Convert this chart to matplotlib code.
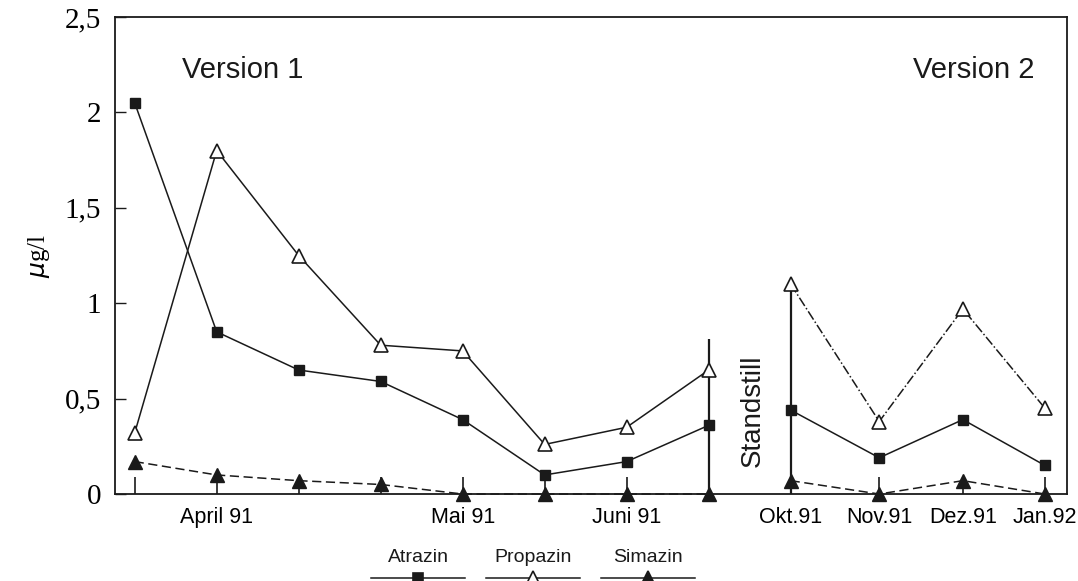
import matplotlib
matplotlib.use("Agg")
import matplotlib.pyplot as plt
from matplotlib.lines import Line2D

# ---- data ----
x_v1 = [0, 1, 2, 3, 4, 5, 6, 7]
x_v2 = [8, 9.08, 10.1, 11.1]
atrazin_v1 = [2.05, 0.85, 0.65, 0.59, 0.39, 0.10, 0.17, 0.36]
atrazin_v2 = [0.44, 0.19, 0.39, 0.15]
propazin_v1 = [0.32, 1.80, 1.25, 0.78, 0.75, 0.26, 0.35, 0.65]
propazin_v2 = [1.10, 0.38, 0.97, 0.45]
simazin_v1 = [0.17, 0.10, 0.07, 0.05, 0.0, 0.0, 0.0, 0.0]
simazin_v2 = [0.07, 0.0, 0.07, 0.0]
tick_labels = {1: "April 91", 4: "Mai 91", 6: "Juni 91", 8: "Okt.91",
               9.08: "Nov.91", 10.1: "Dez.91", 11.1: "Jan.92"}
y_ticks = [0, 0.5, 1, 1.5, 2, 2.5]
y_tick_labels = ["0", "0,5", "1", "1,5", "2", "2,5"]
end_v1 = (7, 0.81)
start_v2 = (8, 1.10)

ink = "#1a1a1a"
fig = plt.figure(figsize=(10.78, 5.81), dpi=100)
ax = fig.add_axes([0.1067, 0.1497, 0.8831, 0.821])

kw = dict(color=ink, lw=1.1, clip_on=False, zorder=3)
for xs, ys in [(x_v1, atrazin_v1), (x_v2, atrazin_v2)]:
    ax.plot(xs, ys, ls="-", marker="s", ms=7, mfc=ink, mec=ink, **kw)
for xs, ys, ls in [(x_v1, propazin_v1, "-"), (x_v2, propazin_v2, "-.")]:
    ax.plot(xs, ys, ls=ls, marker="^", ms=10, mfc="white", mec=ink, mew=1.2, **kw)
for xs, ys in [(x_v1, simazin_v1), (x_v2, simazin_v2)]:
    ax.plot(xs, ys, ls=(0, (6, 3)), marker="^", ms=10, mfc=ink, mec=ink, **kw)

ax.vlines([end_v1[0], start_v2[0]], 0, [end_v1[1], start_v2[1]], color=ink, lw=1.6)

ax.set_xlim(-0.24, 11.37)
ax.set_ylim(0, 2.5)
all_x = x_v1 + x_v2
ax.set_xticks(all_x)
ax.set_xticklabels([tick_labels.get(v, "") for v in all_x],
                   fontfamily="Liberation Sans", fontsize=15.5)
ax.tick_params(axis="x", direction="in", length=12, width=1.2, color=ink, pad=9)
ax.set_yticks(y_ticks)
ax.set_yticklabels(y_tick_labels, fontfamily="Liberation Serif", fontsize=21)
ax.tick_params(axis="y", direction="in", length=8, width=1.0, color=ink, pad=10)
for s in ax.spines.values():
    s.set_color(ink)
    s.set_linewidth(1.3)

ax.set_ylabel(r"$\mu$g/l", fontfamily="Liberation Serif", fontsize=18, labelpad=9)

ax.text(0.070, 0.872, "Version 1", transform=ax.transAxes, fontsize=21,
        fontfamily="Liberation Sans", color=ink)
ax.text(0.966, 0.872, "Version 2", transform=ax.transAxes, fontsize=21,
        fontfamily="Liberation Sans", color=ink, ha="right")
ax.text(7.54, 0.14, "Standstill", rotation=90, fontsize=20, fontfamily="Liberation Sans",
        color=ink, ha="center", va="bottom")

# custom legend below the axes
legend_items = [("Atrazin", "s", ink, 7), ("Propazin", "^", "white", 10), ("Simazin", "^", ink, 10)]
centers_px = [418, 533, 648]
for (name, mk, fc, ms), cpx in zip(legend_items, centers_px):
    cx = cpx / 1078
    fig.text(cx, 1 - 557 / 581, name, ha="center", va="center", fontsize=14,
             fontfamily="Liberation Sans", color=ink)
    ly = 1 - 578 / 581
    fig.add_artist(Line2D([cx - 0.044, cx + 0.044], [ly, ly], color=ink, lw=1.1,
                          transform=fig.transFigure))
    fig.add_artist(Line2D([cx], [ly], marker=mk, ms=ms, mfc=fc, mec=ink, mew=1.2,
                          transform=fig.transFigure, clip_on=False))

fig.savefig("out.png", dpi=100)
